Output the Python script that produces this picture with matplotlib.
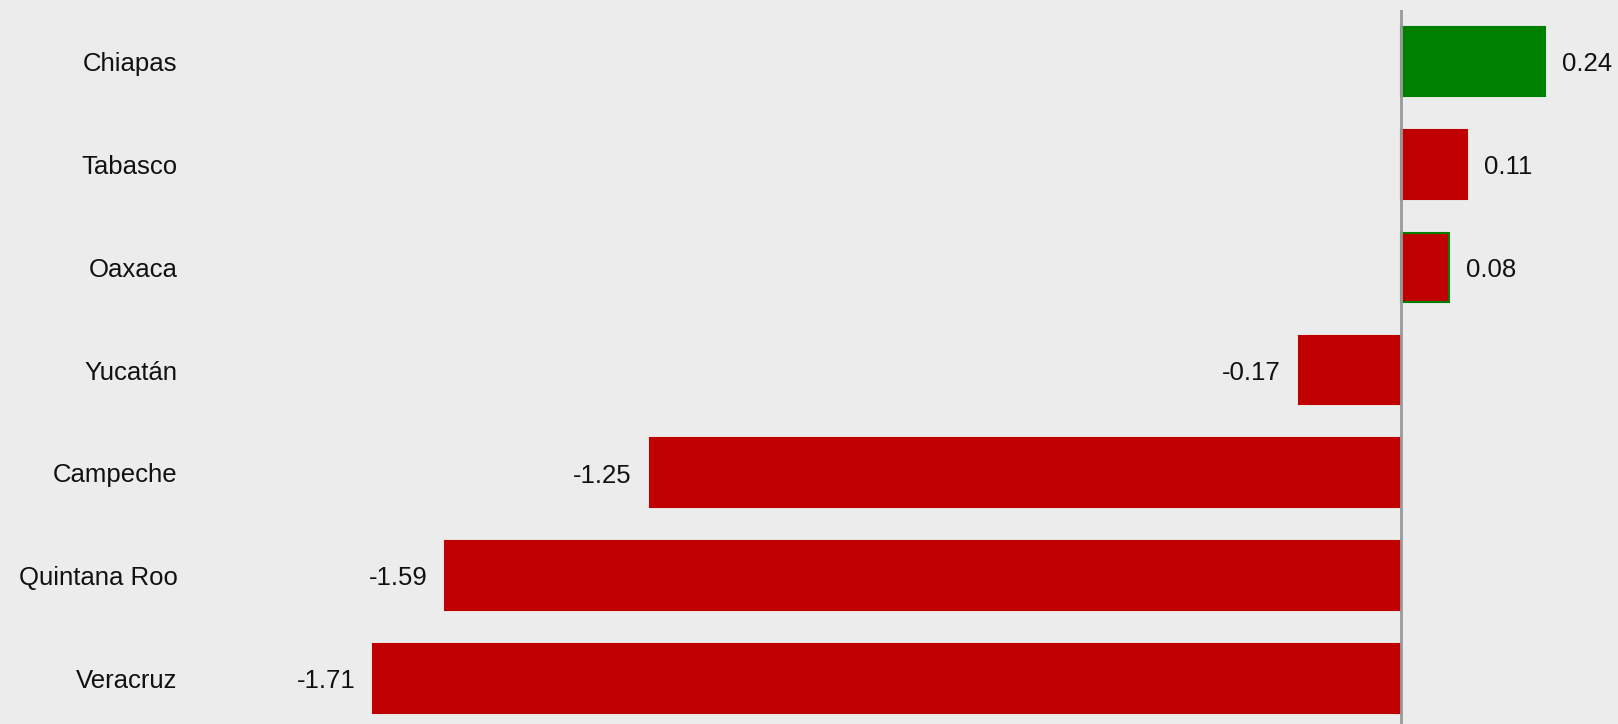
import matplotlib
matplotlib.use("Agg")
import matplotlib.pyplot as plt

# Data
states = ["Chiapas", "Tabasco", "Oaxaca", "Yucatán", "Campeche", "Quintana Roo", "Veracruz"]
values = [0.24, 0.11, 0.08, -0.17, -1.25, -1.59, -1.71]
fill_colors = ["#008000", "#c00000", "#c00000", "#c00000", "#c00000", "#c00000", "#c00000"]
edge_colors = ["#008000", "#c00000", "#008000", "#c00000", "#c00000", "#c00000", "#c00000"]

plt.rcParams["font.family"] = ["Liberation Sans", "DejaVu Sans"]

W, H = 1618, 724
fig = plt.figure(figsize=(W / 100, H / 100), dpi=100)
fig.patch.set_facecolor("#ececec")

# axes from x=190px to right edge, y from 10px (top) to 730px (just below bottom)
ax = fig.add_axes([190 / W, -6 / H, 1 - 190 / W, 720 / H])
ax.patch.set_alpha(0)

ypos = list(range(len(states)))
ax.barh(ypos, values, height=0.67, color=fill_colors, edgecolor=edge_colors, linewidth=1.5)

ax.set_xlim(-2.015, 0.361)
ax.set_ylim(len(states) - 0.5, -0.5)

ax.axvline(0, color="#9a9a9a", linewidth=2)

for y, v in zip(ypos, values):
    if v >= 0:
        ax.annotate(f"{v:.2f}", (v, y), xytext=(12, -7), textcoords="offset points",
                    ha="left", va="baseline", fontsize=18.5, color="#111111")
    else:
        ax.annotate(f"{v:.2f}", (v, y), xytext=(-13, -7), textcoords="offset points",
                    ha="right", va="baseline", fontsize=18.5, color="#111111")

ax.set_yticks(ypos)
ax.set_yticklabels(states, fontsize=18.5, color="#111111")
ax.tick_params(axis="y", length=0, pad=9)
ax.set_xticks([])
for s in ax.spines.values():
    s.set_visible(False)

fig.savefig("out.png", dpi=100, facecolor=fig.get_facecolor())
